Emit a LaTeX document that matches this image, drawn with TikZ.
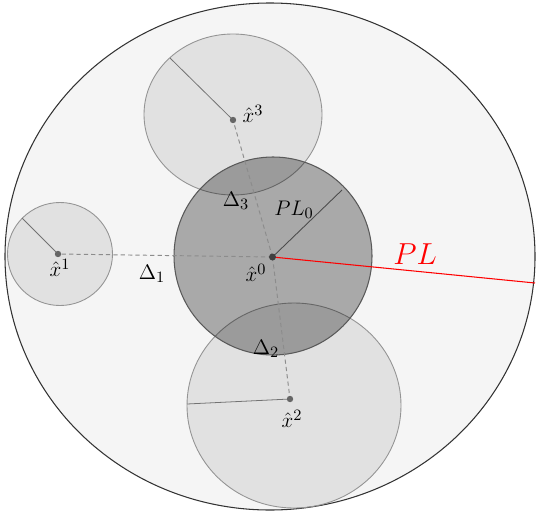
\documentclass[tikz,border=0pt]{standalone}
\usepackage{amsmath}
\usepackage{tikz}

\begin{document}
\begin{tikzpicture}[x=0.02cm, y=-0.02cm,
  outer/.style={draw=black!80, line width=0.6pt, fill=black!4},
  ball/.style={draw=black!42, line width=0.5pt, fill=black, fill opacity=0.08},
  core/.style={draw=black!65, line width=0.6pt, fill=black, fill opacity=0.31},
  rad/.style={draw=black!55, line width=0.45pt},
  dist/.style={draw=black!45, dashed, dash pattern=on 2.4pt off 1.8pt, line width=0.55pt},
  dot/.style={fill=black!60},
  lbl/.style={font=\fontsize{13}{15}\selectfont, inner sep=0pt},
]
\useasboundingbox (0,0) rectangle (536,513);

%% ---- Centres (pixel grid, y downwards)
\coordinate (x0) at (272.5,257);
\coordinate (x1) at (58,254);
\coordinate (x2) at (290,399);
\coordinate (x3) at (233,120);

%% ---- Radius end points
\coordinate (r0) at (342,190);
\coordinate (r1) at (22,218);
\coordinate (r2) at (187,404);
\coordinate (r3) at (170,58);
\coordinate (rPL) at (535,283);

%% ======== Outer region ========
\draw[outer] (270,256.5) ellipse [x radius=265, y radius=253.5];

%% ======== Neighbour balls ========
\draw[ball] (233,114.5) ellipse [x radius=89, y radius=80.5];
\draw[ball] (60,254) ellipse [x radius=52.5, y radius=51.5];
\draw[ball] (294,405.5) ellipse [x radius=107, y radius=102.5];

%% ======== Central ball ========
\draw[core] (273,256) circle [radius=99];

%% ---- Radii
\draw[rad] (x3) -- (r3);
\draw[rad] (x1) -- (r1);
\draw[rad] (x2) -- (r2);
\draw[draw=black!70, line width=0.5pt] (x0) -- (r0);
\draw[red, line width=0.6pt] (x0) -- (rPL);

%% ---- Distances
\draw[dist] (x0) -- (x1);
\draw[dist] (x0) -- (x2);
\draw[dist] (x0) -- (x3);

%% ---- Centre dots
\fill[dot] (x1) circle [radius=3.2];
\fill[dot] (x2) circle [radius=3.2];
\fill[dot] (x3) circle [radius=3.2];
\fill[black!75] (x0) circle [radius=3.5];

%% ---- Labels
\node[lbl] (l3)  at (253,114) {$\hat{x}^3$};
\node[lbl] (l1)  at (60,268)  {$\hat{x}^1$};
\node[lbl] (l0)  at (256,273) {$\hat{x}^0$};
\node[lbl] (l2)  at (292,419) {$\hat{x}^2$};
\node[lbl] (d1)  at (152,274) {$\Delta_1$};
\node[lbl] (d3)  at (236,201) {$\Delta_3$};
\node[lbl] (d2)  at (266,349) {$\Delta_2$};
\node[lbl] (pl0) at (294,210) {$PL_0$};
\node[lbl, red, font=\fontsize{16.5}{19}\selectfont] (pl) at (415,254) {$PL$};

\end{tikzpicture}
\end{document}
